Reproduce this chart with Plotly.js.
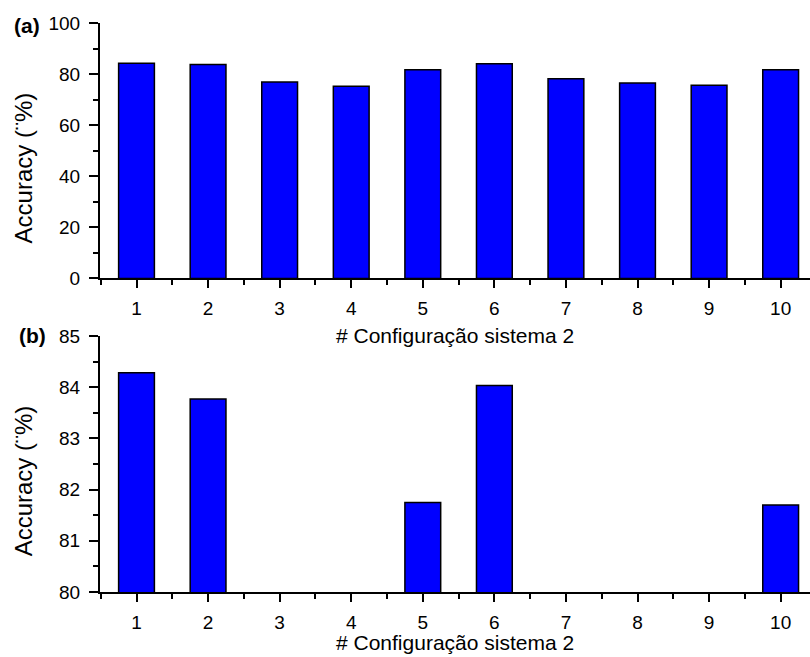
<!DOCTYPE html>
<html>
<head>
<meta charset="utf-8">
<script src="https://cdn.plot.ly/plotly-3.0.1.min.js"></script>
<style>html,body{margin:0;padding:0;background:#fff;}#chart{width:810px;height:657px;}</style>
</head>
<body>
<div id="chart"></div>
<script>
// Data
const configs = [1, 2, 3, 4, 5, 6, 7, 8, 9, 10];
const accuracy = [84.28, 83.77, 76.9, 75.2, 81.75, 84.03, 78.2, 76.5, 75.6, 81.70];
const xTitle = '# Configuração sistema 2';
const yTitle = 'Accuracy (¨%)';
const panelLabels = ['(a)', '(b)'];

const FONT = 'Liberation Sans, Arial, sans-serif';
const barStyle = {color: '#0000FF', line: {color: '#000000', width: 1.5}};

const traces = [
  {type: 'bar', x: configs, y: accuracy, width: 0.5, marker: barStyle, xaxis: 'x', yaxis: 'y', hoverinfo: 'x+y'},
  {type: 'bar', x: configs, y: accuracy, width: 0.5, marker: barStyle, xaxis: 'x2', yaxis: 'y2', hoverinfo: 'x+y'}
];

function xAxis(anchor) {
  return {
    anchor: anchor, domain: [0, 1], range: [0.49, 10.41],
    tick0: 1, dtick: 1, ticks: 'outside', ticklen: 8, tickwidth: 2, tickcolor: '#000',
    minor: {dtick: 0.5, tick0: 0.5, ticks: 'outside', ticklen: 5, tickwidth: 2, tickcolor: '#000', showgrid: false},
    showline: true, linecolor: '#000', linewidth: 2, showgrid: false, zeroline: false,
    ticklabelstandoff: 4,
    tickfont: {family: FONT, size: 19, color: '#000'}
  };
}
function yAxis(anchor, domain, range, dtick, mdtick) {
  return {
    anchor: anchor, domain: domain, range: range,
    tick0: range[0], dtick: dtick, ticks: 'outside', ticklen: 9, tickwidth: 2, tickcolor: '#000',
    minor: {dtick: mdtick, tick0: range[0], ticks: 'outside', ticklen: 5, tickwidth: 2, tickcolor: '#000', showgrid: false},
    showline: true, linecolor: '#000', linewidth: 2, showgrid: false, zeroline: false,
    ticklabelstandoff: 5,
    tickfont: {family: FONT, size: 19, color: '#000'}
  };
}

const layout = {
  width: 810, height: 657,
  margin: {l: 100, r: 0, t: 23, b: 65},
  paper_bgcolor: '#fff', plot_bgcolor: '#fff',
  showlegend: false, bargap: 0,
  xaxis: xAxis('y'),
  yaxis: yAxis('x', [0.551, 1], [0, 100], 20, 10),
  xaxis2: xAxis('y2'),
  yaxis2: yAxis('x2', [0, 0.45], [80, 85], 1, 0.5),
  annotations: [
    {text: yTitle, xref: 'paper', yref: 'paper', x: -0.108, y: 0.745, xanchor: 'center', yanchor: 'middle', textangle: -90, showarrow: false, font: {family: FONT, size: 24, color: '#000'}},
    {text: yTitle, xref: 'paper', yref: 'paper', x: -0.108, y: 0.195, xanchor: 'center', yanchor: 'middle', textangle: -90, showarrow: false, font: {family: FONT, size: 24, color: '#000'}},
    {text: xTitle, xref: 'paper', yref: 'paper', x: 0.5, y: 0.451, xanchor: 'center', yanchor: 'middle', showarrow: false, font: {family: FONT, size: 21, color: '#000'}},
    {text: xTitle, xref: 'paper', yref: 'paper', x: 0.5, y: -0.088, xanchor: 'center', yanchor: 'middle', showarrow: false, font: {family: FONT, size: 21, color: '#000'}},
    {text: '<b>' + panelLabels[0] + '</b>', xref: 'paper', yref: 'paper', x: (27 - 100) / 710, y: 0.995, xanchor: 'center', yanchor: 'middle', showarrow: false, font: {family: FONT, size: 21, color: '#000'}},
    {text: '<b>' + panelLabels[1] + '</b>', xref: 'paper', yref: 'paper', x: (32 - 100) / 710, y: 0.451, xanchor: 'center', yanchor: 'middle', showarrow: false, font: {family: FONT, size: 21, color: '#000'}}
  ]
};

Plotly.newPlot('chart', traces, layout, {staticPlot: true, displayModeBar: false});
</script>
</body>
</html>
